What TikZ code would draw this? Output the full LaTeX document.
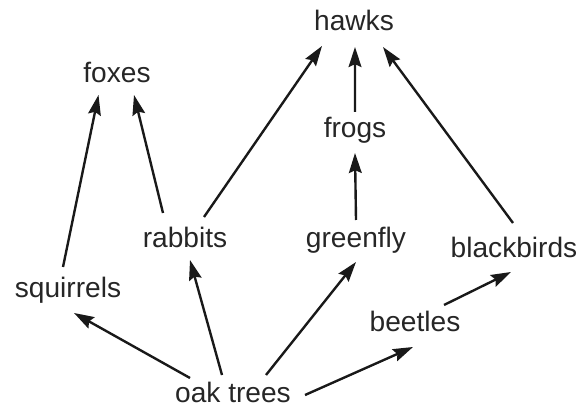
\documentclass[tikz,border=0pt]{standalone}
\usepackage{fontspec}
\setmainfont{Liberation Sans}
\usepackage{tikz}
\usetikzlibrary{arrows.meta}

\tikzset{
    animal/.style={anchor=base,inner sep=0pt,font=\fontsize{20}{24}\selectfont,text=black!85},
    eats/.style={-{Stealth[length=0.5cm,width=0.32cm,inset=0.07cm]},line width=1.7pt,black!90}
}

\begin{document}
\begin{tikzpicture}[scale=1]
        \useasboundingbox (0,0) rectangle (14.525,10.25);
        \foreach \name/\x/\y/\txt in {hawks/8.85/9.475/hawks, foxes/2.925/8.175/foxes,
                frogs/8.875/6.8/frogs, rabbits/4.625/4.05/rabbits, greenfly/8.9/4.05/greenfly,
                blackbirds/12.85/3.8/blackbirds, squirrels/1.7/2.8/squirrels,
                beetles/10.375/1.95/beetles, oak/5.825/0.2/oak trees}{
            \node[animal] (\name) at (\x,\y) {\txt};
        }
        % from the oak trees
        \draw[eats] ([xshift=-1.075cm,yshift=0.6cm]oak.base) -- ([xshift=0.15cm,yshift=-0.375cm]squirrels.base);
        \draw[eats] ([xshift=-0.275cm,yshift=0.675cm]oak.base) -- ([xshift=0.125cm,yshift=-0.3cm]rabbits.base);
        \draw[eats] ([xshift=0.825cm,yshift=0.675cm]oak.base) -- ([yshift=-0.35cm]greenfly.base);
        \draw[eats] ([xshift=1.8cm,yshift=0.175cm]oak.base) -- ([xshift=-0.05cm,yshift=-0.375cm]beetles.base);
        % middle of the web
        \draw[eats] ([xshift=-0.125cm,yshift=0.775cm]squirrels.base) -- ([xshift=-0.4625cm,yshift=-0.3cm]foxes.base);
        \draw[eats] ([xshift=-0.55cm,yshift=0.875cm]rabbits.base) -- ([xshift=0.425cm,yshift=-0.3cm]foxes.base);
        \draw[eats] ([xshift=0.475cm,yshift=0.775cm]rabbits.base) -- ([xshift=-0.8cm,yshift=-0.375cm]hawks.base);
        \draw[eats] ([yshift=0.7cm]greenfly.base) -- ([yshift=-0.375cm]frogs.base);
        \draw[eats] ([yshift=0.65cm]frogs.base) -- ([xshift=0.025cm,yshift=-0.4cm]hawks.base);
        \draw[eats] ([xshift=0.725cm,yshift=0.675cm]beetles.base) -- ([xshift=-0.075cm,yshift=-0.35cm]blackbirds.base);
        \draw[eats] ([xshift=-0.025cm,yshift=0.875cm]blackbirds.base) -- ([xshift=0.725cm,yshift=-0.4cm]hawks.base);
    \end{tikzpicture}
\end{document}
